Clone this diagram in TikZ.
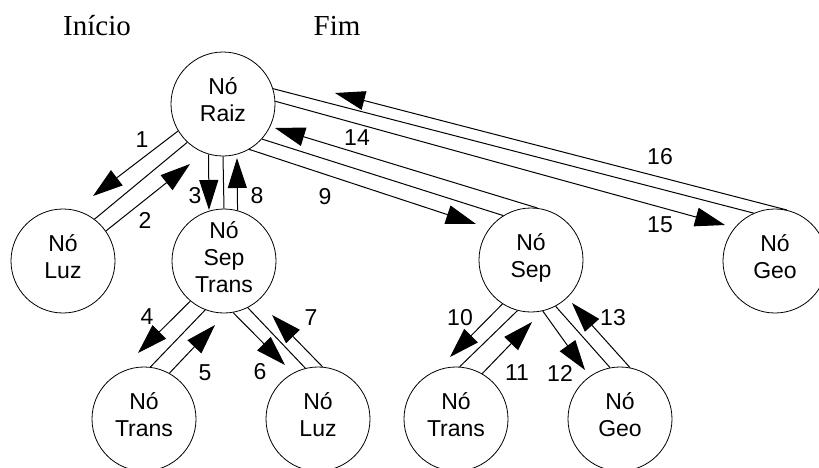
\documentclass[tikz,border=0pt]{standalone}
\usepackage{fontspec}
\setmainfont{Liberation Serif}
\newfontfamily\arialf{Liberation Sans}
\usetikzlibrary{arrows.meta}

\tikzset{
  no/.style={circle, draw, line width=0.8pt, minimum size=104pt, inner sep=0pt, align=center,
    font=\arialf\fontsize{23}{27}\selectfont, execute at end node=\strut},
  num/.style={font=\arialf\fontsize{23}{27}\selectfont, inner sep=0pt},
  aresta/.style={line width=1pt},
  seta/.style={line width=1pt, -{Triangle[length=30pt,width=19pt]}},
  titulo/.style={font=\fontsize{29}{35}\selectfont, anchor=base, inner sep=0pt}
}

\begin{document}
\begin{tikzpicture}[x=1pt, y=-1pt]
\useasboundingbox (0,0) rectangle (819,467);
% titulos
\node[titulo] (inicio) at (97,35) {Início};
\node[titulo] (fim) at (337,35) {Fim};
% nos da arvore
\node[no] (raiz) at (223,104) {Nó\\Raiz};
\node[no] (luz) at (63,261) {Nó\\Luz};
\node[no] (septrans) at (224,261) {Nó\\Sep\\Trans};
\node[no] (sep) at (531,260) {Nó\\Sep};
\node[no] (geo) at (775,261) {Nó\\Geo};
\node[no] (trans1) at (144,419) {Nó\\Trans};
\node[no] (luz2) at (318,419) {Nó\\Luz};
\node[no] (trans2) at (456,419) {Nó\\Trans};
\node[no] (geo2) at (620,419) {Nó\\Geo};
% arestas da arvore
\foreach \a/\b in {raiz.227/luz.53, raiz.270/septrans.90, raiz.318/sep.122, raiz.17/geo.114,
  septrans.249/trans1.83, septrans.297/luz2.104, sep.255/trans2.86, sep.298/geo2.101}
\draw[aresta] (\a) -- (\b);
% pontas das setas
\foreach \n/\x/\y in {1/93/196, 2/190/164, 3/209/210, 8/237/158, 9/476/224, 14/275/128,
  15/725/225, 16/335/93, 4/138/353, 5/215/325, 6/285/365, 7/272/315,
  10/450/357, 11/532/322, 12/585/370, 13/572/303}
\coordinate (t\n) at (\x,\y);
% setas do percurso
\foreach \a/\n in {raiz.211/1, luz.35/2, raiz.254/3, septrans.75/8, raiz.300/9, sep.83/14,
  raiz.3/15, geo.77/16, septrans.230/4, trans1.61/5, septrans.280/6, luz2.85/7,
  sep.237/10, trans2.60/11, sep.283/12, geo2.79/13}
\draw[seta] (\a) -- (t\n);
% numeros
\foreach \n/\x/\y in {1/142/140, 2/145/220, 3/195/196, 8/257/196, 9/325/197, 14/357/138,
  16/660/157, 15/660/225, 4/147/317, 5/205/373, 6/260/372, 7/311/318,
  10/460/318, 11/517/373, 12/560/373, 13/613/318}
\node[num] (n\n) at (\x,\y) {\n};
\end{tikzpicture}
\end{document}
